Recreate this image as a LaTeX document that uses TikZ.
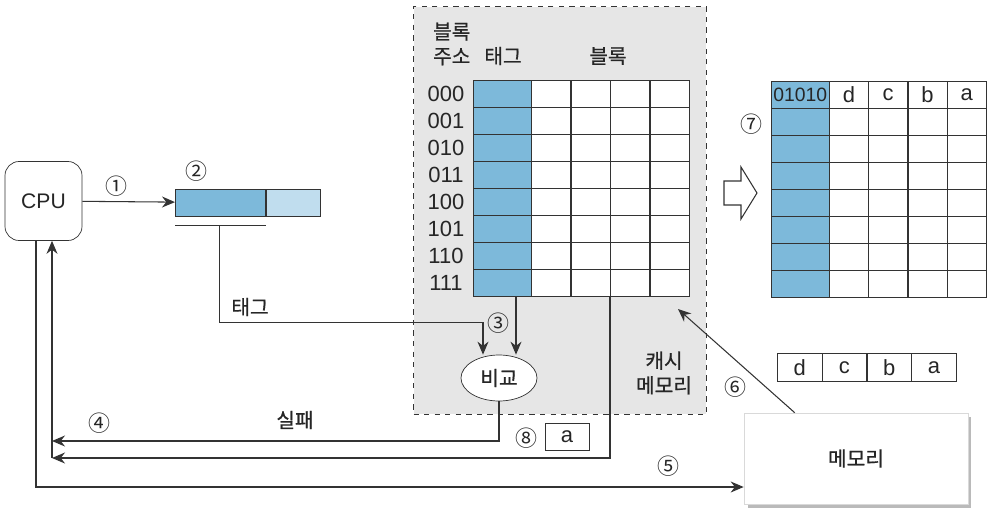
\documentclass[tikz,border=0pt]{standalone}
\usepackage{fontspec}
\setmainfont{Liberation Sans}
\newfontfamily\kr{Noto Sans CJK KR}[FakeBold=0.6]
\newfontfamily\circnum{Noto Sans CJK KR}
\usetikzlibrary{arrows.meta, positioning, shadows, calc, shapes.geometric}
\definecolor{tagBlue}{HTML}{7DB9DA}
\definecolor{tagLight}{HTML}{C0DDEE}
\definecolor{cacheGray}{HTML}{E6E6E6}
\definecolor{lineDark}{HTML}{333333}

\begin{document}
\begin{tikzpicture}[
    x=0.02cm, y=-0.02cm,
    every node/.style={font=\fontsize{11.5}{13}\selectfont, text=black!85},
    kr/.style={font=\kr\fontsize{11.5}{14}\selectfont},
    num/.style={font=\circnum\fontsize{12.5}{14}\selectfont},
    tagcell/.style={draw=lineDark, fill=tagBlue, minimum width=1.16cm,
                    minimum height=0.54cm, inner sep=0pt, anchor=north west},
    blkcell/.style={draw=lineDark, fill=white, minimum width=0.79cm,
                    minimum height=0.54cm, inner sep=0pt, anchor=north west},
    arrow/.style={-{Stealth[length=2.6mm, width=2.2mm]}, lineDark, semithick},
    line/.style={lineDark, semithick},
]
\useasboundingbox (0,0) rectangle (992,514);

% ── Cache memory region ──
\node[draw=lineDark, dashed, semithick, fill=cacheGray, minimum width=5.86cm,
      minimum height=8.16cm, anchor=north west, inner sep=0pt]
    (cache) at (413,6) {};
\node[kr, align=left, anchor=west] (hdraddr) at (427,44) {블록\\주소};
\node[kr] (hdrtag) at (503,56) {태그};
\node[kr] (hdrblk) at (608,56) {블록};
\node[kr, align=center] (cachelbl) at (664,373) {캐시\\메모리};

% ── Left cache grid ──
\foreach \r/\addr in {0/000, 1/001, 2/010, 3/011, 4/100, 5/101, 6/110, 7/111} {
    \node[tagcell] (L\r-t) at (473,80+27*\r) {};
    \foreach \k in {1,...,4}
        \node[blkcell] (L\r-\k) at (531+39.5*\k-39.5,80+27*\r) {};
    \node[font=\fontsize{12.5}{14}\selectfont] (addr\r) at (446,93.5+27*\r) {\addr};
}

% ── Right cache grid (after update) ──
\foreach \r in {0,...,7} {
    \node[tagcell] (R\r-t) at (771,81+27*\r) {};
    \foreach \k in {1,...,4}
        \node[blkcell, minimum width=0.785cm] (R\r-\k) at (829+39.25*\k-39.25,81+27*\r) {};
}
\node[font=\fontsize{11}{12}\selectfont] at (R0-t) {01010};
\foreach \k/\v in {1/d, 2/c, 3/b, 4/a}
    \node[font=\fontsize{12.5}{14}\selectfont] at (R0-\k) {\v};
\node[num] (n7) at (751,124) {⑦};

% hollow arrow
\draw[lineDark, semithick, fill=white]
    (724,181) -- (741,181) -- (741,167) -- (757,193) -- (741,219)
    -- (741,205) -- (724,205) -- cycle;

% ── CPU and address register ──
\node[draw=lineDark, rounded corners=8pt, minimum width=1.54cm,
      minimum height=1.58cm, fill=white,
      font=\fontsize{12}{14}\selectfont] (cpu) at (43.5,201) {CPU};
\node[draw=lineDark, fill=tagBlue, minimum width=1.8cm, minimum height=0.54cm,
      inner sep=0pt, anchor=west] (regtag) at (175,202.5) {};
\node[draw=lineDark, fill=tagLight, minimum width=1.08cm, minimum height=0.54cm,
      inner sep=0pt, anchor=west] (regoff) at (regtag.east) {};
\coordinate (ulL) at ($(regtag.south west)+(0,9)$);
\coordinate (ulR) at ($(regtag.south east)+(0,9)$);
\draw[line] (ulL) -- (ulR);
\node[num] (n1) at (116,186) {①};
\node[num] (n2) at (196,171) {②};

% ── Compare ──
\node[draw=lineDark, ellipse, fill=white, minimum width=1.52cm,
      minimum height=0.92cm, inner sep=0pt, kr] (cmp) at (499,378) {비교};
\node[num] (n3) at (498,323) {③};
\node[kr] (taglbl) at (250,307) {태그};

% ── Data box ──
\node[draw=lineDark, fill=white, minimum width=0.88cm, minimum height=0.54cm,
      inner sep=0pt, font=\fontsize{12.5}{14}\selectfont] (dataA) at (567,436.5) {a};
\node[num] (n8) at (526,438) {⑧};

% ── Memory ──
\node[fill=white, draw=black!15, drop shadow={shadow xshift=2pt,
      shadow yshift=-2pt, fill=black!45, opacity=0.6},
      minimum width=4.48cm, minimum height=1.82cm, kr] (mem) at (856,458.5) {메모리};
\foreach \k/\v in {1/d, 2/c, 3/b, 4/a}
    \node[blkcell, minimum width=0.895cm, minimum height=0.56cm,
          font=\fontsize{12.5}{14}\selectfont]
        (M\k) at (777+44.75*\k-44.75,353) {\v};
\node[num] (n6) at (735,387) {⑥};
\node[num] (n5) at (668,466) {⑤};
\node[num] (n4) at (99,423) {④};
\node[kr] (faillbl) at (295,420) {실패};

% ── Arrows ──
\coordinate (ret) at (52,458);
\coordinate (fail) at (52,441);
\coordinate (cmpL) at ($(cmp.north)+(-16,0)$);
\coordinate (cmpR) at ($(cmp.north)+(17,0)$);
\coordinate (cachehit) at (678,309);
\draw[arrow] (cpu) -- (regtag);
\draw[arrow] ($(ulL)!0.49!(ulR)$) -- ++(0,97) -| (cmpL);
\draw[arrow] (cmpR |- L7-t.south) -- (cmpR);
\draw[arrow] (cmp.south) |- (fail);
\draw[arrow] (L7-3.south west) |- (ret);
\draw[arrow] (ret) -- (ret |- cpu.south);
\draw[arrow] ($(cpu.south)+(-7.5,0)$) |- ($(mem.west)+(0,28.5)$);
\draw[arrow] ($(mem.north west)+(51,0)$) -- (cachehit);
\end{tikzpicture}
\end{document}
